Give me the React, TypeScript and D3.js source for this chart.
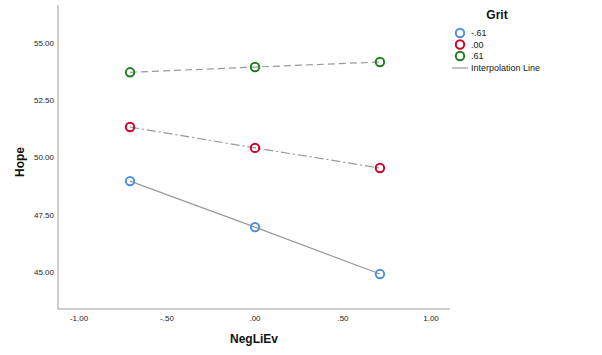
import React from "react";
import * as d3 from "d3";

const xValues = [-0.71, 0.0, 0.71];
const seriesNames = ["-.61", ".00", ".61"];
const seriesLow = [48.97, 46.96, 44.91];
const seriesMid = [51.33, 50.42, 49.54];
const seriesHigh = [53.72, 53.95, 54.17];
const xTicks = [-1, -0.5, 0, 0.5, 1];
const xTickLabels = ["-1.00", "-.50", ".00", ".50", "1.00"];
const yTicks = [45, 47.5, 50, 52.5, 55];
const yTickLabels = ["45.00", "47.50", "50.00", "52.50", "55.00"];

const colors = ["#4d8fe3", "#d1002c", "#1f7f1f"];
const dashes = ["none", "9 3 2 3", "7 4"];

export default function App() {
  const W = 602, H = 355;
  const x = d3.scaleLinear().domain([-1, 1]).range([79, 431]);
  const y = d3.scaleLinear().domain([45, 55]).range([272, 43]);
  const axisLeft = 58, axisTop = 5, axisBottom = 309, axisRight = 450;
  const series = [seriesLow, seriesMid, seriesHigh];
  const line = d3.line<number>().x((_, i) => x(xValues[i])).y((d) => y(d));
  const font = "Arial, 'Liberation Sans', sans-serif";
  return (
    <svg width={W} height={H} style={{ position: "absolute", left: 0, top: 0 }} fontFamily={font}>
      <rect width={W} height={H} fill="#fff" />
      <line x1={axisLeft} x2={axisLeft} y1={axisTop} y2={axisBottom} stroke="#999" strokeWidth={1} />
      <line x1={axisLeft} x2={axisRight} y1={axisBottom} y2={axisBottom} stroke="#999" strokeWidth={1} />
      {yTicks.map((t, i) => (
        <text key={"y" + i} x={54} y={y(t)} dy="0.35em" textAnchor="end" fontSize={8} fill="#222">
          {yTickLabels[i]}
        </text>
      ))}
      {xTicks.map((t, i) => (
        <text key={"x" + i} x={x(t)} y={318} dy="0.35em" textAnchor="middle" fontSize={8} fill="#222">
          {xTickLabels[i]}
        </text>
      ))}
      <text x={254} y={343} textAnchor="middle" fontSize={12} fontWeight="bold" fill="#111">NegLiEv</text>
      <text transform={`translate(24,162) rotate(-90)`} textAnchor="middle" fontSize={12} fontWeight="bold" fill="#111">Hope</text>
      {series.map((s, si) => (
        <path key={"l" + si} d={line(s) || ""} fill="none" stroke="#999" strokeWidth={1.2} strokeDasharray={dashes[si]} />
      ))}
      {series.map((s, si) =>
        s.map((v, i) => (
          <circle key={"c" + si + "-" + i} cx={x(xValues[i])} cy={y(v)} r={4.2} fill="#fff" fillOpacity={0} stroke={colors[si]} strokeWidth={2} />
        ))
      )}
      <text x={497} y={19} textAnchor="middle" fontSize={12} fontWeight="bold" fill="#111">Grit</text>
      {seriesNames.map((n, i) => (
        <g key={"lg" + i}>
          <circle cx={460} cy={33 + i * 11.5} r={4.2} fill="none" stroke={colors[i]} strokeWidth={2} />
          <text x={471} y={33 + i * 11.5} dy="0.35em" fontSize={9} fill="#222">{n}</text>
        </g>
      ))}
      <line x1={452} x2={468} y1={68} y2={68} stroke="#999" strokeWidth={1.2} />
      <text x={471} y={68} dy="0.35em" fontSize={9} fill="#222">Interpolation Line</text>
    </svg>
  );
}
